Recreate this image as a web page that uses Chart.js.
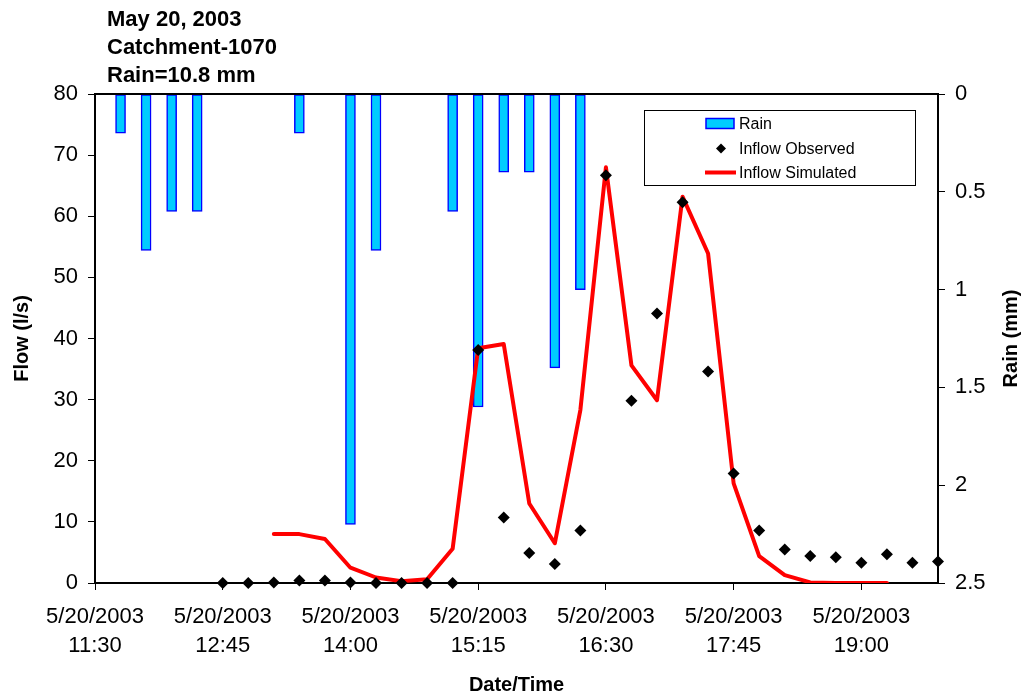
<!DOCTYPE html>
<html>
<head>
<meta charset="utf-8">
<script src="https://cdn.jsdelivr.net/npm/chart.js@4.4.1/dist/chart.umd.min.js"></script>
<style>
  html, body { margin: 0; padding: 0; background: #ffffff; }
  #wrap { width: 1028px; height: 698px; }
</style>
</head>
<body>
<div id="wrap"><canvas id="chart" width="1028" height="698"></canvas></div>
<script>
// ---- data ----
const titleLines = ['May 20, 2003', 'Catchment-1070', 'Rain=10.8 mm'];
const tickDate = '5/20/2003';
const startTime = '11:30';
const endTime = '19:45';

// rainfall per 15-minute interval (mm)
const rainTimes = ['11:45', '12:00', '12:15', '12:30', '13:30', '14:00', '14:15',
                   '15:00', '15:15', '15:30', '15:45', '16:00', '16:15'];
const rainMm = [0.2, 0.8, 0.6, 0.6, 0.2, 2.2, 0.8, 0.6, 1.6, 0.4, 0.4, 1.4, 1.0];

// observed inflow (l/s)
const obsTimes = ['12:45', '13:00', '13:15', '13:30', '13:45', '14:00', '14:15', '14:30',
                  '14:45', '15:00', '15:15', '15:30', '15:45', '16:00', '16:15', '16:30',
                  '16:45', '17:00', '17:15', '17:30', '17:45', '18:00', '18:15', '18:30',
                  '18:45', '19:00', '19:15', '19:30', '19:45'];
const obsFlow = [0, 0, 0.1, 0.4, 0.4, 0.1, 0, 0, 0, 0, 38.1, 10.7, 4.9, 3.1, 8.6, 66.7,
                 29.8, 44.1, 62.3, 34.6, 17.9, 8.6, 5.5, 4.4, 4.2, 3.3, 4.7, 3.3, 3.5];

// simulated inflow (l/s)
const simTimes = ['13:15', '13:30', '13:45', '14:00', '14:15', '14:30', '14:45', '15:00',
                  '15:15', '15:30', '15:45', '16:00', '16:15', '16:30', '16:45', '17:00',
                  '17:15', '17:30', '17:45', '18:00', '18:15', '18:30', '18:45', '19:00', '19:15'];
const simFlow = [8.0, 8.0, 7.2, 2.5, 0.9, 0.3, 0.6, 5.6, 38.4, 39.1, 13.0, 6.5, 28.3, 68.0,
                 35.6, 29.9, 63.2, 53.9, 16.3, 4.4, 1.3, 0.1, 0, 0, 0];

const flowTicks = { min: 0, max: 80, step: 10 };
const rainTicks = { min: 0, max: 2.5, step: 0.5 };
const timeStep = 75; // minutes between labelled ticks

// ---- helpers ----
function clock(t) { const p = t.split(':').map(Number); return p[0] * 60 + p[1]; }
const t0 = clock(startTime);
const toMin = t => clock(t) - t0;
const fmt = m => { const a = m + t0; return Math.floor(a / 60) + ':' + String(a % 60).padStart(2, '0'); };
const pairs = (times, vals) => times.map((t, i) => ({ x: toMin(t), y: vals[i] }));

const FONT = '"Liberation Sans", Arial, Helvetica, sans-serif';
const RAIN_FILL = '#00CCFF', RAIN_EDGE = '#0000FF', SIM_RED = '#FF0000';

// titles, plot frame, right axis caption and legend box
const decor = {
  id: 'decor',
  afterDatasetsDraw(chart) {
    const ctx = chart.ctx, a = chart.chartArea;
    ctx.save();
    ctx.strokeStyle = '#000';
    ctx.lineWidth = 2;
    ctx.beginPath();
    ctx.moveTo(a.left - 1, a.top);
    ctx.lineTo(a.right + 1, a.top);
    ctx.stroke();
    ctx.restore();
  },
  afterDraw(chart) {
    const ctx = chart.ctx, a = chart.chartArea;
    ctx.save();
    ctx.fillStyle = '#000';
    ctx.font = 'bold 22px ' + FONT;
    ctx.textAlign = 'left';
    ctx.textBaseline = 'alphabetic';
    titleLines.forEach((s, i) => ctx.fillText(s, a.left + 12, 26 + i * 28));

    // secondary axis caption, reading bottom to top
    ctx.save();
    ctx.translate(1011, (a.top + a.bottom) / 2);
    ctx.rotate(-Math.PI / 2);
    ctx.textAlign = 'center';
    ctx.textBaseline = 'middle';
    ctx.font = 'bold 20px ' + FONT;
    ctx.fillText('Rain (mm)', 0, 0);
    ctx.restore();

    // legend
    const L = a.right - 294, T = a.top + 16, W = 271, H = 75;
    ctx.fillStyle = '#fff';
    ctx.fillRect(L, T, W, H);
    ctx.strokeStyle = '#000';
    ctx.lineWidth = 1;
    ctx.strokeRect(L + 0.5, T + 0.5, W, H);
    const rows = [T + 13.5, T + 38.5, T + 62.5];
    // rain swatch
    ctx.fillStyle = RAIN_FILL;
    ctx.fillRect(L + 62, rows[0] - 5, 28, 10);
    ctx.strokeStyle = RAIN_EDGE;
    ctx.lineWidth = 1.5;
    ctx.strokeRect(L + 62, rows[0] - 5, 28, 10);
    // observed marker
    ctx.fillStyle = '#000';
    ctx.beginPath();
    const cx = L + 77, r = 5;
    ctx.moveTo(cx, rows[1] - r); ctx.lineTo(cx + r, rows[1]);
    ctx.lineTo(cx, rows[1] + r); ctx.lineTo(cx - r, rows[1]);
    ctx.closePath(); ctx.fill();
    // simulated line
    ctx.strokeStyle = SIM_RED;
    ctx.lineWidth = 4;
    ctx.beginPath();
    ctx.moveTo(L + 61, rows[2]); ctx.lineTo(L + 92, rows[2]);
    ctx.stroke();
    // labels
    ctx.fillStyle = '#000';
    ctx.font = '16px ' + FONT;
    ctx.textBaseline = 'middle';
    ctx.fillText('Rain', L + 95, rows[0] + 1);
    ctx.fillText('Inflow Observed', L + 95, rows[1] + 1);
    ctx.fillText('Inflow Simulated', L + 95, rows[2] + 1);
    ctx.restore();
  }
};

const axisGrid = {
  display: true,
  offset: false,
  drawOnChartArea: false,
  drawTicks: true,
  tickLength: 7,
  tickWidth: 1,
  tickColor: '#000'
};
const axisBorder = { display: true, color: '#000', width: 2 };
const tickFont = { family: FONT, size: 22 };

new Chart(document.getElementById('chart'), {
  type: 'scatter',
  data: {
    datasets: [
      {
        type: 'scatter',
        label: 'Inflow Observed',
        data: pairs(obsTimes, obsFlow),
        yAxisID: 'y',
        pointStyle: 'rectRot',
        pointRadius: 6,
        backgroundColor: '#000',
        borderColor: '#000',
        borderWidth: 0,
        clip: false,
        order: 1
      },
      {
        type: 'line',
        label: 'Inflow Simulated',
        data: pairs(simTimes, simFlow),
        yAxisID: 'y',
        borderColor: SIM_RED,
        borderWidth: 4,
        borderJoinStyle: 'round',
        borderCapStyle: 'round',
        pointRadius: 0,
        tension: 0,
        fill: false,
        order: 2
      },
      {
        type: 'bar',
        label: 'Rain',
        data: pairs(rainTimes, rainMm),
        yAxisID: 'y2',
        backgroundColor: RAIN_FILL,
        borderColor: RAIN_EDGE,
        borderWidth: 1.5,
        borderSkipped: false,
        barThickness: 10,
        order: 3
      }
    ]
  },
  options: {
    responsive: false,
    devicePixelRatio: 1,
    animation: false,
    layout: { padding: { top: 94, left: 0, right: 0, bottom: 0 } },
    plugins: { legend: { display: false }, tooltip: { enabled: false }, title: { display: false } },
    scales: {
      x: {
        type: 'linear',
        offset: false,
        min: 0,
        max: toMin(endTime),
        grid: axisGrid,
        border: axisBorder,
        ticks: {
          stepSize: timeStep,
          includeBounds: false,
          autoSkip: false,
          maxRotation: 0,
          minRotation: 0,
          padding: 13,
          color: '#000',
          font: { ...tickFont, lineHeight: 1.3 },
          callback: v => [tickDate, fmt(v)]
        },
        title: {
          display: true,
          text: 'Date/Time',
          color: '#000',
          font: { family: FONT, size: 20, weight: 'bold', lineHeight: 1.2 },
          padding: { top: 0, bottom: 1 }
        },
        afterFit: s => { s.height = 115; }
      },
      y: {
        position: 'left',
        min: flowTicks.min,
        max: flowTicks.max,
        grid: axisGrid,
        border: axisBorder,
        ticks: { stepSize: flowTicks.step, padding: 10, color: '#000', font: tickFont },
        title: {
          display: true,
          text: 'Flow (l/s)',
          color: '#000',
          font: { family: FONT, size: 20, weight: 'bold', lineHeight: 1.2 },
          padding: { top: 10, bottom: 0 }
        },
        afterFit: s => { s.width = 95; }
      },
      y2: {
        position: 'right',
        reverse: true,
        min: rainTicks.min,
        max: rainTicks.max,
        grid: axisGrid,
        border: axisBorder,
        ticks: {
          stepSize: rainTicks.step,
          padding: 10,
          color: '#000',
          font: tickFont,
          callback: v => String(+v.toFixed(1))
        },
        afterFit: s => { s.width = 90; }
      }
    }
  },
  plugins: [decor]
});
</script>
</body>
</html>
